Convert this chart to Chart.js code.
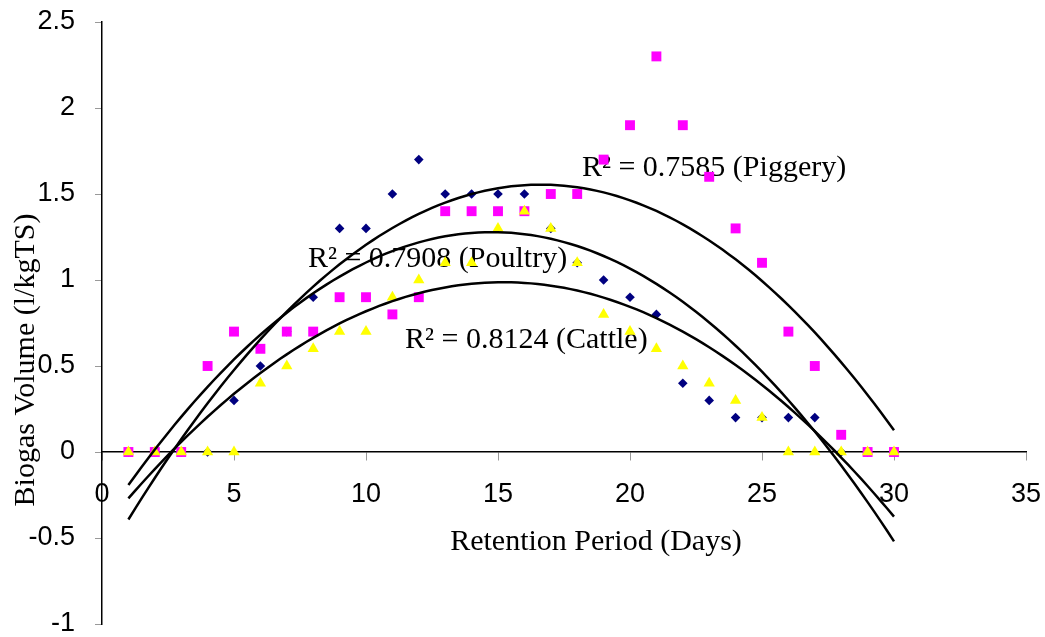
<!DOCTYPE html>
<html>
<head>
<meta charset="utf-8">
<script src="https://cdn.jsdelivr.net/npm/chart.js@4/dist/chart.umd.min.js"></script>
<style>
  html, body { margin: 0; padding: 0; background: #fff; }
  canvas { display: block; }
</style>
</head>
<body>
<canvas id="chart" width="1045" height="637"></canvas>
<script>
// retention period in days
const days = [1, 2, 3, 4, 5, 6, 7, 8, 9, 10, 11, 12, 13, 14, 15, 16, 17, 18, 19, 20, 21, 22, 23, 24, 25, 26, 27, 28, 29, 30]
// biogas volume (l/kgTS)
const poultry = [0, 0, 0, 0, 0.3, 0.5, 0.7, 0.9, 1.3, 1.3, 1.5, 1.7, 1.5, 1.5, 1.5, 1.5, 1.3, 1.1, 1.0, 0.9, 0.8, 0.4, 0.3, 0.2, 0.2, 0.2, 0.2, 0, 0, 0]
const piggery = [0, 0, 0, 0.5, 0.7, 0.6, 0.7, 0.7, 0.9, 0.9, 0.8, 0.9, 1.4, 1.4, 1.4, 1.4, 1.5, 1.5, 1.7, 1.9, 2.3, 1.9, 1.6, 1.3, 1.1, 0.7, 0.5, 0.1, 0, 0]
const cattle = [0, 0, 0, 0, 0, 0.4, 0.5, 0.6, 0.7, 0.7, 0.9, 1.0, 1.1, 1.1, 1.3, 1.4, 1.3, 1.1, 0.8, 0.7, 0.6, 0.5, 0.4, 0.3, 0.2, 0, 0, 0, 0, 0]

const xTicks = [0, 5, 10, 15, 20, 25, 30, 35]
const yTicks = [-1, -0.5, 0, 0.5, 1, 1.5, 2, 2.5]

const r2Labels = ['R² = 0.7585 (Piggery)', 'R² = 0.7908 (Poultry)', 'R² = 0.8124 (Cattle)']
const xTitle = 'Retention Period (Days)'
const yTitle = 'Biogas Volume (l/kgTS)'

// order-2 polynomial trendline, least squares (what the spreadsheet did)
const quadFit = (xs, ys) => {
  const s = [0, 0, 0, 0, 0], t = [0, 0, 0]
  xs.forEach((x, i) => {
    let p = 1
    for (let k = 0; k < 5; k++) {
      s[k] += p
      if (k < 3) t[k] += p * ys[i]
      p *= x
    }
  })
  const m = [[s[0], s[1], s[2]], [s[1], s[2], s[3]], [s[2], s[3], s[4]]]
  const det = a => a[0][0] * (a[1][1] * a[2][2] - a[1][2] * a[2][1])
    - a[0][1] * (a[1][0] * a[2][2] - a[1][2] * a[2][0])
    + a[0][2] * (a[1][0] * a[2][1] - a[1][1] * a[2][0])
  const d = det(m)
  const coef = [0, 1, 2].map(c => det(m.map((row, r) => row.map((v, j) => j === c ? t[r] : v))) / d)
  const pts = []
  for (let x = xs[0]; x <= xs[xs.length - 1] + 1e-9; x += 0.25) {
    pts.push({ x, y: coef[0] + coef[1] * x + coef[2] * x * x })
  }
  return pts
}

const toPoints = ys => days.map((d, i) => ({ x: d, y: ys[i] }))

const trend = (ys) => ({
  type: 'line',
  data: quadFit(days, ys),
  borderColor: '#000',
  borderWidth: 2.5,
  pointRadius: 0,
  fill: false,
  order: 0,
})

const serif = '"Liberation Serif", "Times New Roman", serif'
const sans = '"Liberation Sans", Arial, sans-serif'

// R² text sits under the markers, axis titles on top
const textPlugin = {
  id: 'texts',
  beforeDatasetsDraw(chart) {
    const { ctx, scales: { x, y } } = chart
    const spots = [[18.18, 1.605], [7.8, 1.076], [11.48, 0.605]]
    ctx.save()
    ctx.font = '30px ' + serif
    ctx.fillStyle = '#000'
    ctx.textBaseline = 'alphabetic'
    ctx.textAlign = 'left'
    r2Labels.forEach((t, i) => ctx.fillText(t, x.getPixelForValue(spots[i][0]), y.getPixelForValue(spots[i][1])))
    ctx.restore()
  },
  afterDraw(chart) {
    const { ctx } = chart
    ctx.save()
    ctx.font = '30px ' + serif
    ctx.fillStyle = '#000'
    ctx.textAlign = 'center'
    ctx.textBaseline = 'alphabetic'
    ctx.fillText(xTitle, 596, 550)
    ctx.translate(34, 360)
    ctx.rotate(-Math.PI / 2)
    ctx.fillText(yTitle, 0, 0)
    ctx.restore()
  }
}

new Chart(document.getElementById('chart'), {
  type: 'scatter',
  data: {
    datasets: [
      trend(piggery),
      trend(poultry),
      trend(cattle),
      { label: 'Cattle', data: toPoints(cattle), pointStyle: 'triangle', pointRadius: 6.5, backgroundColor: '#FFFF00', borderColor: '#FFFF00', borderWidth: 0, order: 1 },
      { label: 'Piggery', data: toPoints(piggery), pointStyle: 'rect', pointRadius: 7, backgroundColor: '#FF00FF', borderColor: '#FF00FF', borderWidth: 0, order: 2 },
      { label: 'Poultry', data: toPoints(poultry), pointStyle: 'rectRot', pointRadius: 4.8, backgroundColor: '#000080', borderColor: '#000080', borderWidth: 0, order: 3 },
    ]
  },
  options: {
    responsive: false,
    animation: false,
    layout: { padding: { top: 22, right: 19, bottom: 13, left: 0 } },
    plugins: { legend: { display: false }, tooltip: { enabled: false } },
    scales: {
      x: {
        type: 'linear',
        position: { y: 0 },
        min: 0, max: 35,
        afterBuildTicks: s => { s.ticks = xTicks.map(v => ({ value: v })) },
        // keep the label padding from eating into the plot width
        afterFit: s => { s.paddingLeft = 0; s.paddingRight = 0 },
        ticks: { color: '#000', font: { family: sans, size: 27 }, padding: 18, maxRotation: 0 },
        grid: { drawOnChartArea: false, drawTicks: true, tickLength: 8, color: '#999' },
        border: { color: '#000', width: 1.5 },
      },
      y: {
        type: 'linear',
        min: -1, max: 2.5,
        afterBuildTicks: s => { s.ticks = yTicks.map(v => ({ value: v })) },
        afterFit: s => { s.width = 102; s.paddingTop = 0; s.paddingBottom = 0 },
        ticks: { color: '#000', font: { family: sans, size: 27 }, padding: 20, callback: v => String(v) },
        grid: { drawOnChartArea: false, drawTicks: true, tickLength: 7, color: '#999' },
        border: { color: '#000', width: 1.5 },
      }
    }
  },
  plugins: [textPlugin]
})
</script>
</body>
</html>
